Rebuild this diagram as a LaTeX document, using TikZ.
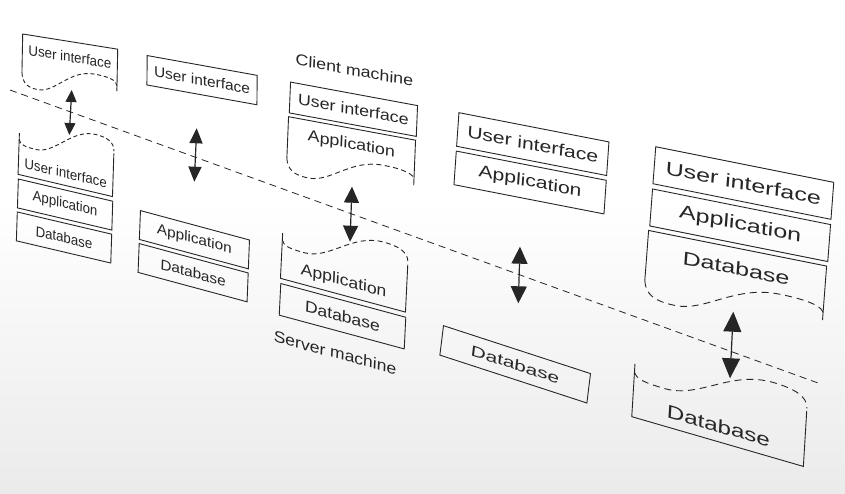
\documentclass[tikz,border=0pt]{standalone}
\usepackage{fontspec}
\setmainfont{Liberation Sans}
\usetikzlibrary{arrows.meta}

% torn-off layers, drawn in the local frame of a machine
\newcommand{\tornlow}[2]{%
    \begin{scope}[shift={(0,#1)}]
        \draw (0,38) -- (0,0) -- (100,0) -- (100,41);
        \draw[dash pattern=on #2 off 0.7*#2] (0,38) .. controls (1,48) and (6,52) .. (18,52)
            .. controls (35,52) and (50,28) .. (75,28) .. controls (92,28) and (100,31) .. (100,36);
    \end{scope}}
\newcommand{\torntop}[2]{%
    \begin{scope}[shift={(0,#1)}]
        \draw (0,-12) -- (0,28) -- (100,28) -- (100,-14);
        \draw[dash pattern=on #2 off 0.7*#2] (0,-6) .. controls (1,-1) and (6,0) .. (18,0)
            .. controls (38,0) and (55,-28) .. (80,-28) .. controls (92,-28) and (100,-25) .. (100,-16);
    \end{scope}}

\begin{document}
\begin{tikzpicture}[x=1pt, y=-1pt, color=black!85, line width=0.9pt,
    layer/.style={draw, minimum width=100pt, minimum height=28pt, inner sep=0pt,
        anchor=north west, transform shape, font=\fontsize{14}{16}\selectfont},
    tag/.style={inner sep=0pt, transform shape, font=\fontsize{14}{16}\selectfont},
    link/.style 2 args={line width=1.2pt, {Triangle[length=#1,width=#2]}-{Triangle[length=#1,width=#2]}},
    divider/.style={dash pattern=on 7pt off 5pt, line width=0.8pt}]
    \useasboundingbox (0,0) rectangle (845,494);

    % Background
    \fill[white] (0,0) rectangle (845,494);
    \shade[top color=white, bottom color=black!8] (0,200) rectangle (845,494);

    % (a) client and server
    \begin{scope}[cm={0.95,-0.152,0.02,1.02,(22.7,34)}]
        \tornlow{0}{4pt}
        \node[tag] (a-ui) at (50,15) {User interface};
    \end{scope}
    \begin{scope}[cm={0.944,-0.222,0.033,1.03,(19,145.5)}]
        \torntop{0}{4pt}
        \node[tag] (a-ui2) at (50,16) {User interface};
        \node[layer] (a-app) at (0,32) {Application};
        \node[layer] (a-db) at (0,64) {Database};
    \end{scope}

    % (b) client and server
    \begin{scope}[cm={1.10,-0.198,0.01,1.05,(146.7,55)}]
        \node[layer] (b-ui) at (0,0) {User interface};
    \end{scope}
    \begin{scope}[cm={1.09,-0.294,0.04,1.03,(140,210)}]
        \node[layer] (b-app) at (0,0) {Application};
        \node[layer] (b-db) at (0,32) {Database};
    \end{scope}

    % (c) client and server
    \begin{scope}[cm={1.27,-0.235,0.045,1.1,(290,81.5)}]
        \node[tag] (c-client) at (50,-21) {Client machine};
        \node[layer] (c-ui) at (0,0) {User interface};
        \tornlow{32}{5pt}
        \node[tag] (c-app) at (50,47) {Application};
    \end{scope}
    \begin{scope}[cm={1.25,-0.3375,0.055,1.13,(282,246.7)}]
        \torntop{0}{5pt}
        \node[tag] (c-app2) at (50,16) {Application};
        \node[layer] (c-db) at (0,32) {Database};
        \node[tag] (c-server) at (46,80) {Server machine};
    \end{scope}

    % (d) client and server
    \begin{scope}[cm={1.5,-0.2925,0.083,1.2,(458.3,112)}]
        \node[layer] (d-ui) at (0,0) {User interface};
        \node[layer] (d-app) at (0,32) {Application};
    \end{scope}
    \begin{scope}[cm={1.47,-0.479,0.13,1.05,(442.9,325)}]
        \node[layer] (d-db) at (0,0) {Database};
    \end{scope}

    % (e) client and server
    \begin{scope}[cm={1.78,-0.356,0.1,1.32,(655,146)}]
        \node[layer] (e-ui) at (0,0) {User interface};
        \node[layer] (e-app) at (0,32) {Application};
        \tornlow{64}{7pt}
        \node[tag] (e-db) at (50,79) {Database};
    \end{scope}
    \begin{scope}[cm={1.716,-0.4976,0.08,1.32,(634,379.7)}]
        \torntop{0}{7pt}
        \node[tag] (e-db2) at (50,16) {Database};
    \end{scope}

    % Machine boundary
    \coordinate (cut-l) at (10,90);
    \coordinate (cut-r) at (818,383);
    \draw[divider] (cut-l) -- (cut-r);

    % Client-server links
    \coordinate (a-up) at (71.7,90);   \coordinate (a-dn) at (69.3,135);
    \coordinate (b-up) at (196.7,128.3); \coordinate (b-dn) at (194.3,181.7);
    \coordinate (c-up) at (352,186.7);  \coordinate (c-dn) at (350,241.7);
    \coordinate (d-up) at (520,246.7);  \coordinate (d-dn) at (518.3,303.3);
    \coordinate (e-up) at (733.3,311.7); \coordinate (e-dn) at (730,378.3);
    \draw[link={12pt}{11pt}] (a-up) -- (a-dn);
    \draw[link={15pt}{13pt}] (b-up) -- (b-dn);
    \draw[link={16pt}{15pt}] (c-up) -- (c-dn);
    \draw[link={17pt}{16pt}] (d-up) -- (d-dn);
    \draw[link={20pt}{18pt}] (e-up) -- (e-dn);
\end{tikzpicture}
\end{document}
